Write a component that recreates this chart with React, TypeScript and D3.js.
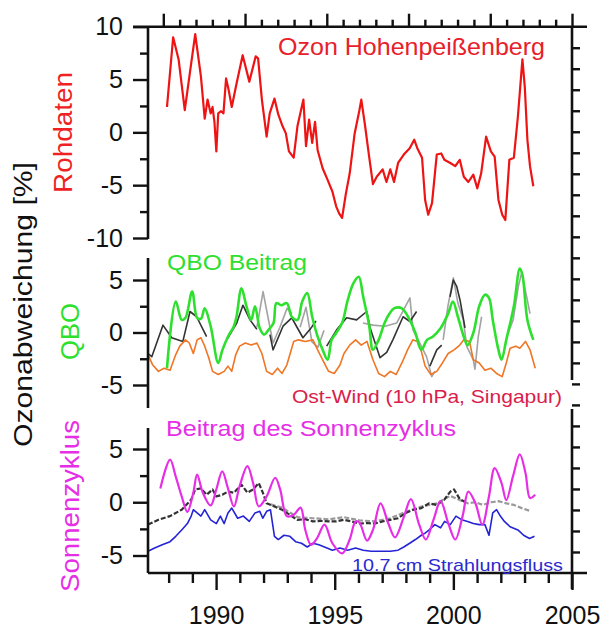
import { useEffect, useRef } from 'react';
import * as d3 from 'd3';

type Pt = [number, number];

// tick labels
const yearTicks = [1990, 1995, 2000, 2005];
const rawTicks = [10, 5, 0, -5, -10];
const rawMinor = [7.5, 2.5, -2.5, -7.5];
const panelTicks = [5, 0, -5];
const panelMinor = [2.5, -2.5];

// Rohdaten: Ozon Hohenpeißenberg [year, %]
const ozoneRaw: Pt[] = [
  [1987.93, 2.4], [1988.19, 9.0], [1988.42, 6.9], [1988.68, 2.1], [1989.12, 9.3], [1989.36, 5.3],
  [1989.52, 1.3], [1989.64, 3.1], [1989.77, 1.8], [1989.85, 2.4], [1989.93, 1.0], [1990.01, -1.8],
  [1990.09, 1.8], [1990.21, 2.0], [1990.31, 1.8], [1990.42, 5.1], [1990.53, 4.0], [1990.66, 2.4],
  [1990.86, 4.6], [1991.12, 7.3], [1991.4, 4.8], [1991.67, 7.2], [1991.77, 7.0], [1991.93, 3.1],
  [1992.13, -0.4], [1992.26, 1.8], [1992.46, 3.2], [1992.62, 1.7], [1992.78, 0.7], [1992.94, -0.1],
  [1993.07, -1.8], [1993.27, -2.4], [1993.43, 0.6], [1993.68, 3.1], [1993.79, -1.3], [1993.92, 1.2],
  [1994.05, -1.0], [1994.17, 1.0], [1994.28, -1.7], [1994.49, -3.4], [1994.7, -4.5], [1994.9, -5.6],
  [1995.06, -7.0], [1995.19, -7.7], [1995.31, -8.1], [1995.47, -5.8], [1995.63, -3.9], [1995.84, -0.1],
  [1996.04, 2.1], [1996.12, 3.1], [1996.28, 0.6], [1996.45, -2.3], [1996.61, -4.9], [1996.77, -4.2],
  [1997.02, -3.5], [1997.18, -4.7], [1997.34, -3.5], [1997.5, -4.7], [1997.67, -2.9], [1997.91, -2.1],
  [1998.16, -1.5], [1998.35, -0.7], [1998.48, -1.5], [1998.68, -2.4], [1998.81, -6.4], [1998.94, -7.8],
  [1999.1, -6.7], [1999.3, -2.1], [1999.49, -2.0], [1999.62, -2.6], [1999.87, -2.9], [2000.08, -3.2],
  [2000.27, -2.6], [2000.44, -4.2], [2000.63, -4.7], [2000.84, -4.0], [2001.01, -5.3], [2001.17, -3.9],
  [2001.38, -0.4], [2001.58, -1.8], [2001.74, -2.3], [2001.9, -6.4], [2002.06, -7.8], [2002.19, -8.3],
  [2002.36, -2.6], [2002.55, -2.4], [2002.72, 1.5], [2002.91, 6.9], [2003.01, 4.3], [2003.12, -0.7],
  [2003.23, -3.2], [2003.37, -5.1],
];

// QBO Beitrag
const qboContribution: Pt[] = [
  [1987.93, -3.4], [1988.3, 2.95], [1988.55, 1.2], [1988.71, 1.4], [1988.99, 3.9], [1989.2, 1.4],
  [1989.36, 1.3], [1989.52, 2.3], [1989.77, 0.6], [1990.09, -2.9], [1990.26, -1.7], [1990.5, -0.4],
  [1990.75, 0.6], [1990.86, 1.5], [1991.07, 4.2], [1991.28, 2.5], [1991.48, 1.2], [1991.64, 2.5],
  [1991.84, 0.4], [1992.02, -0.2], [1992.21, 0.25], [1992.42, 0.9], [1992.54, 2.8], [1992.75, 2.6],
  [1992.98, 2.8], [1993.19, 1.5], [1993.43, 1.2], [1993.63, 2.95], [1993.84, 3.75], [1994.05, 1.5],
  [1994.28, -0.4], [1994.49, -1.65], [1994.7, -2.6], [1994.87, -0.7], [1995.06, -0.05], [1995.31, 0.9],
  [1995.55, 3.1], [1995.79, 4.7], [1996.01, 5.3], [1996.2, 3.4], [1996.45, 0.7], [1996.61, -1.65],
  [1996.85, -0.7], [1997.1, 0.9], [1997.31, 1.8], [1997.5, 2.3], [1997.83, 2.3], [1998.16, 1.2],
  [1998.4, -0.05], [1998.65, -1.65], [1998.89, -0.7], [1999.13, -0.4], [1999.46, 0.4], [1999.78, 1.8],
  [1999.98, 2.95], [2000.19, 1.5], [2000.44, -0.4], [2000.6, -1.2], [2000.84, -0.05], [2001.09, 2.5],
  [2001.33, 3.6], [2001.5, 3.3], [2001.66, 1.2], [2001.9, -1.65], [2002.03, -2.6], [2002.23, -0.7],
  [2002.55, 2.5], [2002.8, 6.1], [2002.91, 5.5], [2003.12, 1.2], [2003.37, -0.7],
];

// Ost-Wind (10 hPa, Singapur)
const eastWind: Pt[] = [
  [1987.13, -2.1], [1987.33, -3.1], [1987.57, -3.7], [1987.81, -3.4], [1988.06, -3.6], [1988.3, -2.1],
  [1988.47, -1.3], [1988.71, -0.7], [1988.87, -1.0], [1989.04, -2.0], [1989.2, -0.7], [1989.36, -0.5],
  [1989.52, -1.3], [1989.69, -2.4], [1989.85, -3.7], [1990.09, -4.0], [1990.34, -3.7], [1990.5, -3.2],
  [1990.66, -3.7], [1990.83, -2.1], [1990.99, -1.3], [1991.23, -1.0], [1991.48, -1.2], [1991.72, -1.0],
  [1991.93, -2.0], [1992.13, -3.7], [1992.37, -4.0], [1992.59, -3.4], [1992.78, -3.9], [1992.98, -3.1],
  [1993.11, -2.1], [1993.27, -0.85], [1993.47, -0.7], [1993.76, -0.85], [1994.08, -0.7], [1994.28, -1.65],
  [1994.49, -2.6], [1994.74, -3.7], [1994.98, -3.9], [1995.22, -3.1], [1995.39, -2.0], [1995.63, -1.2],
  [1995.88, -0.7], [1996.12, -1.2], [1996.36, -0.85], [1996.61, -2.6], [1996.85, -3.9], [1997.1, -4.2],
  [1997.34, -3.7], [1997.59, -4.0], [1997.83, -2.9], [1998.07, -1.65], [1998.29, -0.7], [1998.48, -0.85],
  [1998.65, -1.8], [1998.81, -3.2], [1999.05, -4.0], [1999.3, -3.7], [1999.54, -2.9], [1999.78, -2.0],
  [2000.03, -1.65], [2000.27, -1.2], [2000.44, -0.7], [2000.68, -0.85], [2000.84, -2.6], [2001.09, -2.9],
  [2001.33, -3.6], [2001.58, -3.4], [2001.82, -3.9], [2002.06, -4.2], [2002.23, -2.9], [2002.39, -1.5],
  [2002.63, -1.3], [2002.8, -1.5], [2003.04, -0.85], [2003.23, -1.65], [2003.45, -3.4],
];

// QBO model traces (segments)
const qboDark: Pt[][] = [
  [[1987.13, -2.0], [1987.29, -2.3], [1987.76, 0.7], [1988.13, -0.5], [1988.6, -0.85], [1988.9, 2.0],
   [1989.18, 1.5], [1989.6, -0.4]],
  [[1990.45, -0.7], [1990.87, 0.9], [1991.13, 2.6], [1991.43, 1.2], [1991.72, 0.3]],
  [[1992.27, -0.2], [1992.4, -1.65], [1992.82, 0.6], [1993.19, 1.4], [1993.41, 0.5], [1993.66, -0.5],
   [1993.96, 0.3], [1994.21, 1.1]],
  [[1994.66, -1.3], [1995.08, 0.25], [1995.5, 1.4], [1995.92, 1.2], [1996.35, 2.0], [1996.49, 0.45],
   [1996.91, -2.4], [1997.19, -1.9], [1997.45, -0.7], [1997.88, 1.5], [1998.17, 1.05], [1998.45, 2.0]],
  [[1999.01, -3.2], [1999.3, -1.65], [1999.51, -1.2]],
  [[1999.86, 3.4], [2000.0, 5.0], [2000.14, 4.4], [2000.28, 3.1], [2000.49, 0.45]],
];
const qboGray: Pt[][] = [
  [[1991.72, 0.5], [1991.98, 3.9], [1992.14, 2.0], [1992.4, -1.0], [1992.69, 0.5], [1992.99, 2.3], [1993.2, 1.8]],
  [[1993.54, 0.5], [1993.79, 2.4], [1994.04, -0.9], [1994.29, -1.4], [1994.55, 0.2]],
  [[1996.19, 0.9], [1996.61, 0.7], [1997.12, 0.6], [1997.61, 0.9], [1998.17, 3.3], [1998.3, 0.25],
   [1998.87, -2.3], [1999.09, -4.2], [1999.22, -3.7]],
  [[1999.57, -0.7], [1999.77, 2.5], [2000.0, 5.2], [2000.19, 2.8], [2000.42, 1.2], [2000.56, -1.3],
   [2000.84, -2.6], [2000.91, -3.5], [2001.05, -0.4], [2001.19, 1.5]],
  [[2002.25, -0.4], [2002.52, 1.2], [2002.74, 4.4], [2002.88, 5.7], [2003.09, 3.4], [2003.23, 1.8]],
];

// Beitrag des Sonnenzyklus
const solarContribution: Pt[] = [
  [1987.65, 1.3], [1988.06, 4.0], [1988.3, 2.4], [1988.55, 0.55], [1988.79, -0.9], [1989.04, 0.9],
  [1989.2, 2.6], [1989.44, 0.9], [1989.77, -0.3], [1990.01, 1.2], [1990.26, 2.9], [1990.5, 1.3],
  [1990.75, -0.4], [1990.99, 1.5], [1991.32, 3.4], [1991.56, 1.8], [1991.8, -0.4], [1992.13, 0.55],
  [1992.49, 2.3], [1992.7, 1.2], [1992.98, -1.3], [1993.27, -1.2], [1993.56, -0.5], [1993.76, -2.6],
  [1994.0, -4.0], [1994.25, -3.4], [1994.57, -2.1], [1994.9, -3.85], [1995.31, -4.8], [1995.63, -3.5],
  [1995.88, -1.8], [1996.04, -1.9], [1996.36, -3.6], [1996.61, -2.6], [1996.93, -0.1], [1997.26, -2.0],
  [1997.54, -3.3], [1997.91, -1.4], [1998.21, 0.3], [1998.56, -2.1], [1998.84, -3.5], [1999.17, -1.6],
  [1999.46, 0.1], [1999.79, -2.0], [2000.08, -3.5], [2000.39, -1.3], [2000.63, 1.0], [2000.93, -0.1],
  [2001.22, -2.1], [2001.5, 0.55], [2001.74, 3.2], [2002.03, 1.8], [2002.23, 0.2], [2002.52, 2.5],
  [2002.8, 4.5], [2003.04, 2.75], [2003.23, 0.4], [2003.45, 0.7],
];

// 10.7 cm Strahlungsfluss
const radioFlux: Pt[] = [
  [1987.13, -4.6], [1987.41, -4.3], [1987.73, -4.0], [1988.06, -3.7], [1988.3, -3.2], [1988.55, -2.6],
  [1988.79, -2.0], [1988.95, -1.3], [1989.04, -0.7], [1989.2, -1.0], [1989.36, -1.3], [1989.52, -0.7],
  [1989.77, -1.65], [1990.01, -2.0], [1990.18, -1.3], [1990.34, -2.0], [1990.5, -1.0], [1990.66, -0.55],
  [1990.91, -1.5], [1991.15, -1.3], [1991.4, -1.8], [1991.64, -1.0], [1991.84, -0.85], [1991.97, -1.5],
  [1992.13, -0.85], [1992.29, -0.7], [1992.46, -3.2], [1992.62, -3.5], [1992.86, -3.1], [1993.11, -3.2],
  [1993.35, -3.7], [1993.6, -3.85], [1993.84, -4.2], [1994.08, -3.85], [1994.33, -4.0], [1994.57, -4.2],
  [1994.9, -4.5], [1995.22, -4.3], [1995.55, -4.5], [1995.88, -4.3], [1996.2, -4.5], [1996.53, -4.6],
  [1996.93, -4.6], [1997.34, -4.6], [1997.67, -4.5], [1997.91, -4.2], [1998.16, -3.85], [1998.4, -3.5],
  [1998.65, -3.1], [1998.81, -2.9], [1998.98, -2.6], [1999.22, -2.1], [1999.46, -2.4], [1999.63, -1.8],
  [1999.87, -2.1], [2000.11, -1.3], [2000.36, -1.65], [2000.6, -1.8], [2000.84, -2.0], [2001.09, -2.1],
  [2001.33, -2.1], [2001.5, -3.1], [2001.66, -1.0], [2001.82, -0.7], [2001.98, -1.3], [2002.15, -1.8],
  [2002.39, -2.3], [2002.72, -2.6], [2002.96, -3.1], [2003.21, -3.4], [2003.42, -3.2],
];

// solar model traces (dashed)
const solarDark: Pt[] = [
  [1987.13, -2.1], [1987.57, -1.65], [1988.06, -1.3], [1988.55, -0.7], [1988.95, 0.25], [1989.12, 1.2],
  [1989.36, 1.3], [1989.6, 0.7], [1989.85, 1.2], [1990.01, 0.55], [1990.26, 0.7], [1990.5, 1.0],
  [1990.75, 0.9], [1991.07, 1.65], [1991.32, 0.9], [1991.56, 1.2], [1991.8, 1.8], [1991.97, 0.9],
  [1992.13, -0.1], [1992.46, -0.4], [1992.78, -0.7], [1993.11, -1.2], [1993.43, -1.65], [1993.76, -1.6],
  [1994.08, -1.8], [1994.41, -1.75], [1994.74, -1.8], [1995.06, -1.8], [1995.39, -1.65], [1995.71, -1.8],
  [1996.04, -2.0], [1996.36, -1.95], [1996.69, -2.0], [1997.02, -1.8], [1997.34, -1.65], [1997.67, -1.5],
  [1997.99, -1.0], [1998.32, -0.7], [1998.65, -0.55], [1998.97, -0.1], [1999.3, -0.25], [1999.62, 0.25],
  [1999.87, 1.0], [2000.03, 1.2], [2000.27, 0.3], [2000.6, -0.1],
];
const solarGray: Pt[] = [
  [1992.3, -0.2], [1992.78, -0.5], [1993.43, -1.4], [1994.08, -1.5], [1994.74, -1.6], [1995.39, -1.4],
  [1996.04, -1.7], [1996.69, -1.8], [1997.34, -1.5], [1997.99, -0.9], [1998.65, -0.4], [1999.3, -0.1],
  [1999.87, 0.6], [2000.27, 0.2], [2000.6, -0.1], [2000.93, 0.0], [2001.25, -0.25], [2001.58, 0.0],
  [2001.9, 0.1], [2002.23, -0.1], [2002.55, -0.25], [2002.88, -0.55], [2003.21, -0.8],
];

const FONT = '"Liberation Sans", Arial, Helvetica, sans-serif';

export default function App() {
  const svgRef = useRef<SVGSVGElement>(null);

  useEffect(() => {
    document.body.style.margin = '0';
    const svg = d3.select(svgRef.current);
    svg.selectAll('*').remove();

    const left = 148, right = 572, top = 26.7, bottom = 573;

    const x = d3.scaleLinear().domain([1987.13, 2005]).range([left, right]);
    const yRaw = d3.scaleLinear().domain([-10, 10]).range([238, top]);
    const yQbo = d3.scaleLinear().domain([-5, 5]).range([385, 280]);
    const ySun = d3.scaleLinear().domain([-5, 5]).range([555.5, 449]);

    const plot = svg.append('g');

    const draw = (data: Pt[], y: d3.ScaleLinear<number, number>, color: string, width: number,
      curve: d3.CurveFactory = d3.curveLinear, dash: string | null = null) => {
      const line = d3.line<Pt>().x(d => x(d[0])).y(d => y(d[1])).curve(curve);
      plot.append('path')
        .attr('d', line(data))
        .attr('fill', 'none')
        .attr('stroke', color)
        .attr('stroke-width', width)
        .attr('stroke-linejoin', 'round')
        .attr('stroke-dasharray', dash);
    };

    // Rohdaten
    draw(ozoneRaw, yRaw, '#ee1414', 2.2);

    // QBO panel
    qboGray.forEach(s => draw(s, yQbo, '#a3a3a3', 1.6));
    qboDark.forEach(s => draw(s, yQbo, '#333333', 1.6));
    draw(eastWind, yQbo, '#f07524', 1.6);
    draw(qboContribution, yQbo, '#2ee02e', 2.6, d3.curveCatmullRom.alpha(0.5));

    // Sonnenzyklus panel
    draw(solarGray, ySun, '#9a9a9a', 2.2, d3.curveLinear, '5,2');
    draw(solarDark, ySun, '#333333', 2.2, d3.curveLinear, '5,2');
    draw(radioFlux, ySun, '#2424d6', 1.6);
    draw(solarContribution, ySun, '#e62ee6', 2.2, d3.curveCatmullRom.alpha(0.5));

    const axisStyle = (g: d3.Selection<SVGGElement, unknown, null, undefined>, size: number) => {
      g.select('.domain').remove();
      g.selectAll('line').attr('stroke', '#111').attr('stroke-width', 2.4);
      g.selectAll('text').attr('font-family', FONT).attr('font-size', size).attr('fill', '#111');
    };

    // plain hyphen for negative numbers, as in the original
    const fmt = (d: d3.NumberValue) => String(d);

    // left axes for each panel
    const panels: [d3.ScaleLinear<number, number>, number[], number[], number, number][] = [
      [yRaw, rawTicks, rawMinor, top, 239],
      [yQbo, panelTicks, panelMinor, 258, 408],
      [ySun, panelTicks, panelMinor, 428, bottom],
    ];
    panels.forEach(([y, major, minor, y0, y1]) => {
      plot.append('line').attr('x1', left).attr('x2', left).attr('y1', y0).attr('y2', y1)
        .attr('stroke', '#111').attr('stroke-width', 2.6);
      plot.append('g').attr('transform', `translate(${left},0)`)
        .call(d3.axisLeft(y).tickValues(minor).tickSize(8).tickFormat(() => ''))
        .call(g => axisStyle(g, 25));
      plot.append('g').attr('transform', `translate(${left},0)`)
        .call(d3.axisLeft(y).tickValues(major).tickSize(15).tickPadding(10).tickFormat(fmt))
        .call(g => axisStyle(g, 25));
    });

    // top frame with its own tick run
    const tTop = d3.scaleLinear().domain([0, 25]).range([163.3, right]);
    plot.append('line').attr('x1', left - 15).attr('x2', right + 15).attr('y1', top).attr('y2', top)
      .attr('stroke', '#111').attr('stroke-width', 2.6);
    plot.append('g').attr('transform', `translate(0,${top})`)
      .call(d3.axisTop(tTop).tickValues(d3.range(0, 26).filter(i => i % 5)).tickSize(7).tickFormat(() => ''))
      .call(g => axisStyle(g, 10));
    plot.append('g').attr('transform', `translate(0,${top})`)
      .call(d3.axisTop(tTop).tickValues([0, 5, 10, 15, 20, 25]).tickSize(13).tickFormat(() => ''))
      .call(g => axisStyle(g, 10));

    // right frame
    const tRight = d3.scaleLinear().domain([0, 26]).range([top, bottom]);
    plot.append('line').attr('x1', right).attr('x2', right).attr('y1', top).attr('y2', bottom + 16)
      .attr('stroke', '#111').attr('stroke-width', 2.6);

    // box behind the Ost-Wind label
    plot.append('rect').attr('x', 287).attr('y', 380).attr('width', 287).attr('height', 29).attr('fill', '#fff');

    plot.append('g').attr('transform', `translate(${right},0)`)
      .call(d3.axisRight(tRight).tickValues(d3.range(1, 26)).tickSize(8).tickFormat(() => ''))
      .call(g => axisStyle(g, 10));

    // bottom axis
    plot.append('line').attr('x1', left).attr('x2', right + 15).attr('y1', bottom).attr('y2', bottom)
      .attr('stroke', '#111').attr('stroke-width', 2.6);
    plot.append('g').attr('transform', `translate(0,${bottom})`)
      .call(d3.axisBottom(x).tickValues(d3.range(1988, 2005).filter(v => v % 5)).tickSize(10).tickFormat(() => ''))
      .call(g => axisStyle(g, 25));
    plot.append('g').attr('transform', `translate(0,${bottom})`)
      .call(d3.axisBottom(x).tickValues(yearTicks).tickSize(17).tickPadding(16).tickFormat(fmt))
      .call(g => axisStyle(g, 25));

    // annotations
    const label = (txt: string, x0: number, y0: number, size: number, color: string, len: number) => {
      plot.append('text')
        .attr('x', x0).attr('y', y0)
        .attr('font-family', FONT).attr('font-size', size).attr('fill', color)
        .attr('textLength', len).attr('lengthAdjust', 'spacingAndGlyphs')
        .text(txt);
    };
    label('Ozon Hohenpeißenberg', 278, 55, 24, '#e8202a', 267);
    label('QBO Beitrag', 167, 270, 22, '#2ee02e', 140);
    label('Ost-Wind (10 hPa, Singapur)', 292, 403, 19, '#d9204a', 270);
    label('Beitrag des Sonnenzyklus', 166, 436, 22, '#e62ee6', 290);
    label('10.7 cm Strahlungsfluss', 352, 571, 17, '#2a2ad0', 211);

    const vlabel = (txt: string, bx: number, cy: number, size: number, color: string, len: number) => {
      plot.append('text')
        .attr('transform', `translate(${bx},${cy}) rotate(-90)`)
        .attr('text-anchor', 'middle')
        .attr('font-family', FONT).attr('font-size', size).attr('fill', color)
        .attr('textLength', len).attr('lengthAdjust', 'spacingAndGlyphs')
        .text(txt);
    };
    vlabel('Ozonabweichung [%]', 31.5, 304.5, 26, '#111', 285);
    vlabel('Rohdaten', 71.5, 132.5, 26, '#ee2222', 121);
    vlabel('QBO', 79, 331.5, 26, '#2ee02e', 57);
    vlabel('Sonnenzyklus', 79, 506, 26, '#e62ee6', 172);
  }, []);

  return (
    <svg ref={svgRef} width={606} height={630} style={{ display: 'block', background: '#fff' }} />
  );
}
